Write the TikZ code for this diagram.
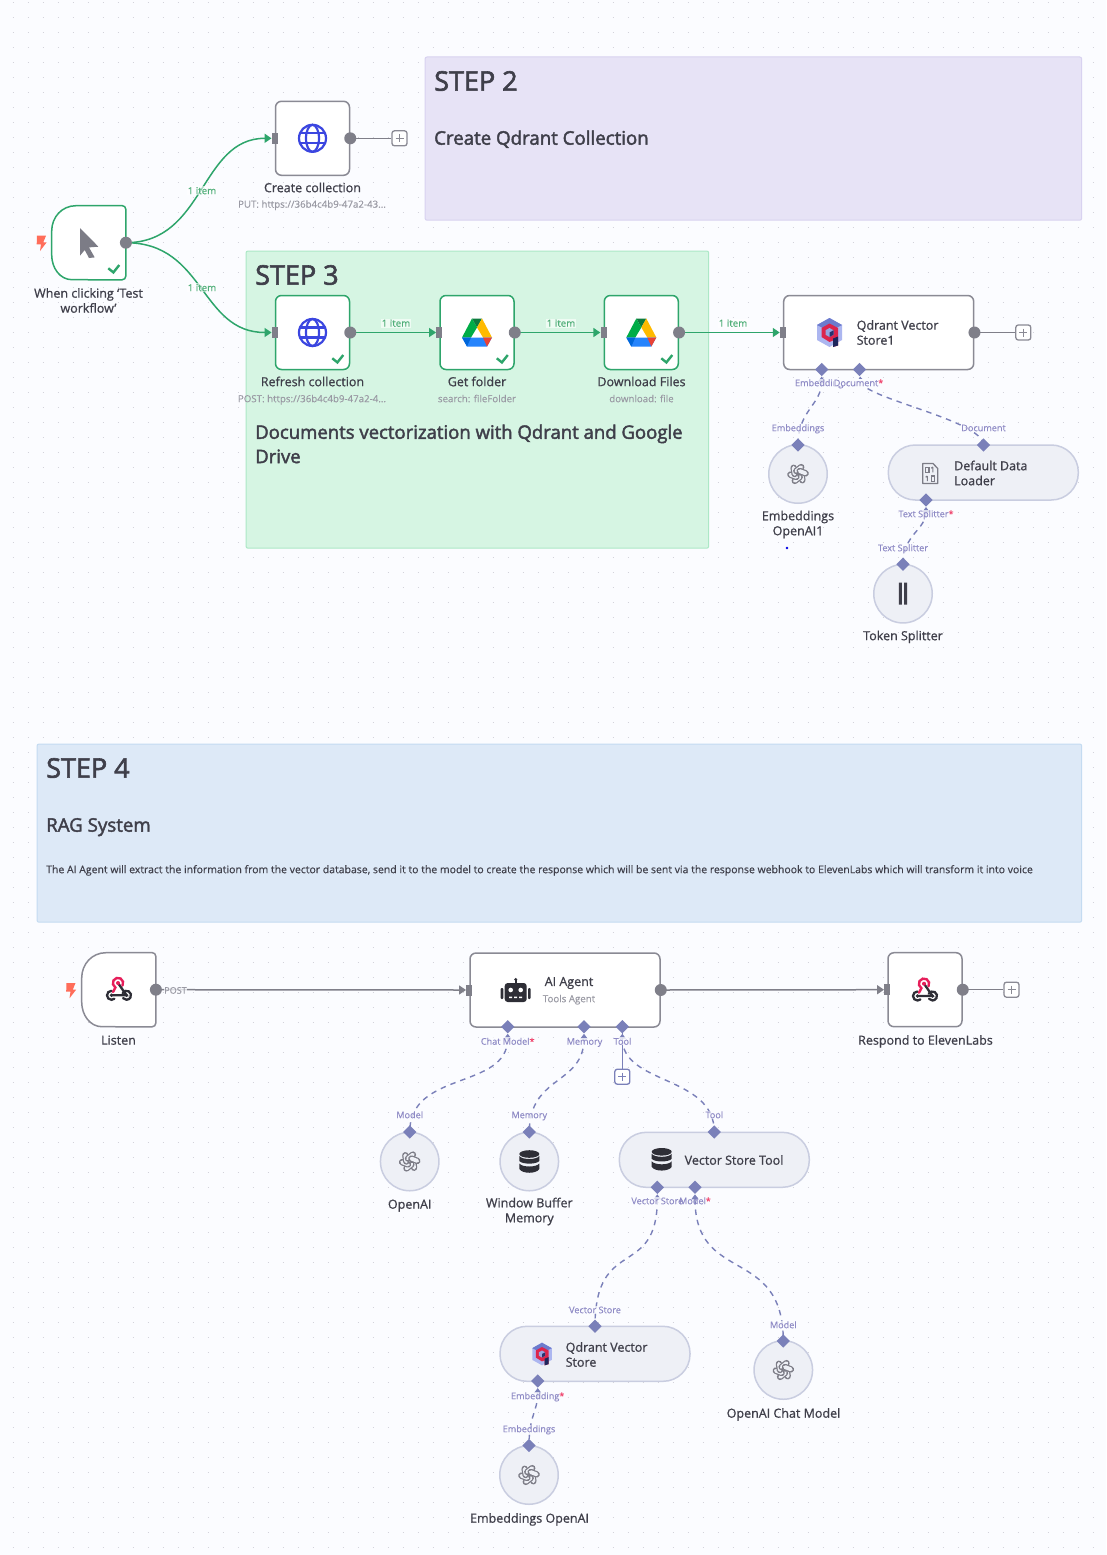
\documentclass[tikz,border=0pt]{standalone}
\usepackage{fontspec}
\setmainfont{Open Sans}
\newfontfamily\osreg[FakeBold=0.3]{Open Sans}
\newfontfamily\osmed[FakeBold=0.9]{Open Sans}
\newfontfamily\ossemi[FakeBold=2.2]{Open Sans}
\usetikzlibrary{shapes.geometric,arrows.meta}
\pgfdeclarelayer{gridlayer}\pgfdeclarelayer{notelayer}\pgfdeclarelayer{edgelayer}
\pgfsetlayers{gridlayer,notelayer,edgelayer,main}
\definecolor{pagebg}{HTML}{FBFCFF}
\definecolor{griddot}{HTML}{D3D3DB}
\definecolor{okgreen}{HTML}{2EA56B}
\definecolor{graybord}{HTML}{8A8A94}
\definecolor{portgray}{HTML}{7F7F89}
\definecolor{subfill}{HTML}{EEF0F6}
\definecolor{subbord}{HTML}{C9CDE0}
\definecolor{portpurple}{HTML}{7A80B9}
\definecolor{lblpurple}{HTML}{8F8BC6}
\definecolor{starred}{HTML}{F0436C}
\definecolor{textdark}{HTML}{3F3F4A}
\definecolor{textsub}{HTML}{9A9AA4}
\definecolor{itemgreen}{HTML}{4FAE78}
\definecolor{boltred}{HTML}{FF6D5A}
\definecolor{globeblue}{HTML}{3B46E0}
\definecolor{iconinkd}{HTML}{2E2E36}
\definecolor{aigray}{HTML}{7C7C86}
\definecolor{pnote}{HTML}{E7E3F6}\definecolor{pnoteb}{HTML}{D8D2F0}
\definecolor{gnote}{HTML}{D6F5E3}\definecolor{gnoteb}{HTML}{ACE8C6}
\definecolor{bnote}{HTML}{DDE9F7}\definecolor{bnoteb}{HTML}{C4DBF1}
\definecolor{gdgreend}{HTML}{0E7A3E}\definecolor{gdgreen}{HTML}{00AC47}
\definecolor{gdyellow}{HTML}{FFBA00}\definecolor{gdblue}{HTML}{2684FC}
\definecolor{gdblued}{HTML}{0066DA}\definecolor{gdred}{HTML}{EA4335}
\definecolor{qdlight}{HTML}{ACB6F0}\definecolor{qdmid}{HTML}{6C7BCD}
\definecolor{qdred}{HTML}{DC244C}\definecolor{qddark}{HTML}{1E265C}
\definecolor{qdpale}{HTML}{96A5E1}\definecolor{qdnavy}{HTML}{28326E}
\definecolor{hookpink}{HTML}{E61E5A}
\tikzset{
  x=1pt,y=-1pt,
  notebox/.style={draw,line width=1pt,rounded corners=2pt,anchor=north west,inner sep=0pt},
  plainbox/.style={draw=#1,fill=white,line width=1.5pt,rounded corners=6pt,minimum width=74pt,minimum height=74pt,inner sep=0pt},
  widebox/.style={draw=graybord,fill=white,line width=1.5pt,rounded corners=6pt,minimum width=190pt,minimum height=74pt,inner sep=0pt},
  trigshape/.style={minimum width=74pt,minimum height=74pt,inner sep=0pt},
  subcircle/.style={circle,draw=subbord,fill=subfill,line width=1.5pt,minimum size=58.5pt,inner sep=0pt},
  subpill/.style={draw=subbord,fill=subfill,line width=1.5pt,rounded corners=27pt,minimum width=190pt,minimum height=55pt,inner sep=0pt},
  outport/.style={circle,fill=portgray,minimum size=12pt,inner sep=0pt},
  inport/.style={fill=portgray,minimum width=6pt,minimum height=11pt,inner sep=0pt},
  subport/.style={diamond,fill=portpurple,minimum size=13.5pt,inner sep=0pt},
  plusbox/.style={draw=#1,fill=white,line width=1.3pt,rounded corners=2.5pt,minimum size=15pt,inner sep=0pt},
  nametext/.style={font=\osmed\fontsize{12.5}{15}\selectfont,text=textdark,align=center,inner sep=0pt,anchor=mid,yshift=-2pt},
  nametwo/.style={font=\osmed\fontsize{12.5}{15}\selectfont,text=textdark,align=center,inner sep=0pt,anchor=center},
  nameleft/.style={font=\osmed\fontsize{12.5}{15}\selectfont,text=textdark,align=left,inner sep=0pt,anchor=west},
  subtext/.style={font=\osreg\fontsize{9.7}{12}\selectfont,text=textsub,inner sep=0pt,anchor=mid,yshift=-1pt},
  plabel/.style={font=\osreg\fontsize{9.1}{12}\selectfont,text=lblpurple,inner sep=0.6pt,anchor=mid,yshift=-1pt,fill=pagebg,fill opacity=.75,text opacity=1},
  itemlabel/.style={font=\osreg\fontsize{9.7}{12}\selectfont,text=itemgreen,inner sep=0.8pt,anchor=mid,yshift=-1pt,fill=white,fill opacity=.6,text opacity=1},
  notetitle/.style={font=\ossemi\fontsize{27}{30}\selectfont,text=textdark,inner sep=0pt,anchor=mid west,yshift=-6.5pt},
  notehead/.style={font=\ossemi\fontsize{18.7}{24}\selectfont,text=textdark,inner sep=0pt,align=left},
  notesmall/.style={font=\osreg\fontsize{10.47}{12}\selectfont,text=textdark,inner sep=0pt,anchor=mid west,yshift=-1pt},
  okedge/.style={draw=okgreen,line width=1.5pt,-{Triangle[length=7pt,width=9pt]}},
  grayedge/.style={draw=portgray,line width=1.5pt,-{Triangle[length=7pt,width=9pt]}},
  stubedge/.style={draw=portgray,line width=1.5pt},
  subedge/.style={draw=portpurple,line width=1.4pt,dash pattern=on 5.5pt off 5pt,{Triangle[length=5pt,width=7pt]}-,shorten <=7pt},
  pics/globeicon/.style={code={
    \draw[globeblue,line width=2.2pt] (0,0) circle[radius=13.5];
    \draw[globeblue,line width=2.2pt] (0,0) circle[x radius=6.5,y radius=13.5];
    \draw[globeblue,line width=2.2pt] (-12.5,-5) -- (12.5,-5) (-12.5,5) -- (12.5,5);
  }},
  pics/gdriveicon/.style={code={
    \fill[gdgreend] (-5,-14) -- (5,-14) -- (0,-5) -- cycle;
    \fill[gdgreen] (-5,-14) -- (0,-5) -- (-6,5) -- (-15,5) -- cycle;
    \fill[gdyellow] (5,-14) -- (15,5) -- (6,5) -- (0,-5) -- cycle;
    \fill[gdblue] (-15,5) -- (15,5) -- (10,14) -- (-10,14) -- cycle;
    \fill[gdblued] (-15,5) -- (-6,5) -- (-10,14) -- cycle;
    \fill[gdred] (15,5) -- (6,5) -- (10,14) -- cycle;
  }},
  pics/qdranticon/.style={code={
    \fill[qdlight] (0,-14.5) -- (12.5,-7.5) -- (12.5,7.5) -- (0,14.5) -- (-12.5,7.5) -- (-12.5,-7.5) -- cycle;
    \fill[qdmid] (0,-14.5) -- (12.5,-7.5) -- (0,-1) -- (-12.5,-7.5) -- cycle;
    \fill[qdred] (0,-9) -- (8.5,-4.5) -- (8.5,13) -- (3.5,14.5) -- (3.5,8) -- (0,9.5) -- (-8,4.5) -- (-8,-4.5) -- cycle;
    \fill[qddark] (3.5,6) -- (8.5,4) -- (8.5,13) -- (3.5,14.5) -- cycle;
    \fill[qdpale] (0,-4.5) -- (4,-2.2) -- (4,2.2) -- (0,4.5) -- (-4,2.2) -- (-4,-2.2) -- cycle;
    \fill[qdnavy] (0,0) -- (4,-2.2) -- (4,2.2) -- (0,4.5) -- cycle;
  }},
  pics/openaiicon/.style={code={
    \foreach \a in {0,60,...,300}{
      \draw[aigray,line width=6.4pt,line cap=round] (\a:3.4) -- (\a+55:7.6);
      \draw[subfill,line width=3.9pt,line cap=round] (\a:3.4) -- (\a+55:7.6);
    }
  }},
  pics/dbicon/.style={code={
    \fill[iconinkd] (0,-7.5) circle[x radius=10,y radius=3.8];
    \fill[iconinkd] (-10,-5.5) .. controls (-7,-1.5) and (7,-1.5) .. (10,-5.5) -- (10,-0.5) .. controls (7,3) and (-7,3) .. (-10,-0.5) -- cycle;
    \fill[iconinkd] (-10,2) .. controls (-7,6) and (7,6) .. (10,2) -- (10,7.5) .. controls (7,12.5) and (-7,12.5) .. (-10,7.5) -- cycle;
  }},
  pics/roboticon/.style={code={
    \fill[iconinkd,rounded corners=3pt] (-11,-7) rectangle (11,12);
    \fill[iconinkd,rounded corners=1pt] (-15,-2) rectangle (-12.3,9);
    \fill[iconinkd,rounded corners=1pt] (12.3,-2) rectangle (15,9);
    \fill[iconinkd] (-1,-10) rectangle (1,-6);
    \fill[iconinkd] (0,-10.5) circle[radius=1.6];
    \fill[white] (-5,0) circle[radius=2.3] (5,0) circle[radius=2.3];
    \fill[white] (-6.5,6.5) rectangle (-3.5,8) (-1.5,6.5) rectangle (1.5,8) (3.5,6.5) rectangle (6.5,8);
  }},
  pics/webhookicon/.style={code={
    \draw[iconinkd,line width=2.3pt] (-1,-6) -- (7.5,6.3) -- (-7.5,6.3);
    \draw[iconinkd,line width=2.3pt,line cap=round] (-7.5,1.8) arc[start angle=-90,end angle=-310,radius=4.5];
    \draw[iconinkd,line width=2.3pt,line cap=round] (3.6,4) arc[start angle=-150,end angle=140,radius=4.5];
    \fill[iconinkd] (-7.5,6.3) circle[radius=1.9] (7.5,6.3) circle[radius=1.9];
    \draw[hookpink,line width=2.4pt,line cap=round] (-6,3) -- (-3.6,-1.5) arc[start angle=120,end angle=390,radius=5.2];
    \fill[hookpink] (-1,-6) circle[radius=2];
  }},
  pics/cursoricon/.style={code={
    \fill[aigray] (-8.7,-14.7) -- (9.7,4) -- (0.3,4.7) -- (6,14.7) -- (0.3,15.3) -- (-4,7.3) -- (-8.7,13) -- cycle;
  }},
  pics/bolticon/.style={code={
    \fill[boltred] (-4.5,-7) -- (4.5,-7) -- (1.8,-0.4) -- (5.2,-0.4) -- (-1.5,8.3) -- (-0.5,1.6) -- (-4.8,1.6) -- cycle;
  }},
  pics/checkicon/.style={code={
    \draw[okgreen,line width=2.4pt] (-5.7,0.3) -- (-0.6,4.4) -- (5.3,-3);
  }},
  pics/plusglyph/.style={code={
    \draw[#1,line width=1.5pt] (-4,0) -- (4,0) (0,-4) -- (0,4);
  }},
  pics/barsicon/.style={code={
    \fill[textdark] (-4.2,-11) rectangle (-1.2,11) (1.2,-11) rectangle (4.2,11);
  }},
  pics/binaryicon/.style={code={
    \draw[aigray,line width=1.3pt,line join=round] (-7.3,-10) -- (3,-10) -- (7.7,-5) -- (7.7,10) -- (-7.3,10) -- cycle;
    \draw[aigray,line width=1.1pt] (-4.5,-6.2) rectangle (-1,-1.2);
    \draw[aigray,line width=1.1pt] (2.8,-6.5) -- (2.8,-1.2) (1.2,-5.3) -- (2.8,-6.5);
    \draw[aigray,line width=1.1pt] (-2.7,2.5) -- (-2.7,7.7) (-4.3,3.7) -- (-2.7,2.5);
    \draw[aigray,line width=1.1pt] (1.2,2.5) rectangle (4.7,7.7);
  }},
}
\begin{document}
\begin{tikzpicture}
\useasboundingbox (0,0) rectangle (1106,1555);

% ---------- background and dot grid
\begin{pgfonlayer}{gridlayer}
  \fill[pagebg] (0,0) rectangle (1106,1555);
  \foreach \j in {0,...,103}{
    \draw[griddot,line width=1.1pt,dash pattern=on 1.1pt off 13.9pt] (12.5,2.5+15*\j) -- (1106,2.5+15*\j);
  }
\end{pgfonlayer}

% ---------- sticky notes
\begin{pgfonlayer}{notelayer}
  \node[notebox,draw=pnoteb,fill=pnote,minimum width=656.7pt,minimum height=163.2pt] (note2) at (424.5,56.5) {};
  \node[notebox,draw=gnoteb,fill=gnote,minimum width=462.7pt,minimum height=297.2pt] (note3) at (245.5,250.5) {};
  \node[notebox,draw=bnoteb,fill=bnote,minimum width=1044.7pt,minimum height=178.2pt] (note4) at (36.5,743.5) {};
\end{pgfonlayer}
\node[notetitle] (n2a) at (434,81.5) {STEP 2};
\node[notehead,anchor=mid west,yshift=-4pt] (n2b) at (434,138) {Create Qdrant Collection};
\node[notetitle] (n3a) at (255,275.5) {STEP 3};
\node[notehead,anchor=north west,yshift=-3.5pt,font=\ossemi\fontsize{18.55}{24.3}\selectfont] (n3b) at (255,421) {Documents vectorization with Qdrant and Google\\Drive};
\node[notetitle] (n4a) at (46,768.5) {STEP 4};
\node[notehead,anchor=mid west,yshift=-4pt] (n4b) at (46,825) {RAG System};
\node[notesmall] (n4c) at (46,869.5) {The AI Agent will extract the information from the vector database, send it to the model to create the response which will be sent via the response webhook to ElevenLabs which will transform it into voice};

% ---------- main nodes, upper workflow
\node[trigshape] (trig) at (88.7,242.7) {};
\draw[okgreen,fill=white,line width=1.5pt]
  (76,205.7) [rounded corners=4pt] -- (trig.north east) -- (trig.south east) -- (76,279.7) [sharp corners]
  .. controls (60,279.7) and (51.7,268) .. (51.7,255) -- (51.7,231)
  .. controls (51.7,217) and (62,205.7) .. (76,205.7) -- cycle;
\pic at (trig.center) {cursoricon};
\pic at (114,268) {checkicon};
\pic at (41.5,242.7) {bolticon};
\node[nametwo] (trigt) at (88.5,300.5) {When clicking ‘Test\\workflow’};

\node[plainbox=graybord] (create) at (312.5,138.3) {};
\pic at (create.center) {globeicon};
\node[nametext] (createt) at (312.5,187.5) {Create collection};
\node[subtext] (creates) at (312,204) {PUT: https://36b4c4b9-47a2-43...};

\node[plainbox=okgreen] (refresh) at (312.5,332.5) {};
\pic at (refresh.center) {globeicon};
\pic at (338,358) {checkicon};
\node[nametext] (refresht) at (312.5,381.5) {Refresh collection};
\node[subtext] (refreshs) at (312,398.5) {POST: https://36b4c4b9-47a2-4...};

\node[plainbox=okgreen] (folder) at (477,332.5) {};
\pic at (folder.center) {gdriveicon};
\pic at (502.5,358) {checkicon};
\node[nametext] (foldert) at (477,381.5) {Get folder};
\node[subtext] (folders) at (477,398.5) {search: fileFolder};

\node[plainbox=okgreen] (files) at (641.3,332.5) {};
\pic at (files.center) {gdriveicon};
\pic at (667,358) {checkicon};
\node[nametext] (filest) at (641.5,381.5) {Download Files};
\node[subtext] (filess) at (641.5,398.5) {download: file};

\node[widebox] (qv1) at (878.7,332.5) {};
\pic at (829.5,332.5) {qdranticon};
\node[nameleft] (qv1t) at (856.5,332.5) {Qdrant Vector\\Store1};

\node[subcircle] (emb1) at (798,474) {};
\pic at (emb1.center) {openaiicon};
\node[nametwo] (emb1t) at (798,524.5) {Embeddings\\OpenAI1};
\fill[blue!90!black] (787,548) circle[radius=1.3];

\node[subpill] (ddl) at (983.3,472.5) {};
\pic at (930,473.5) {binaryicon};
\node[nameleft] (ddlt) at (954,473) {Default Data\\Loader};

\node[subcircle] (tok) at (903,593.7) {};
\pic at (tok.center) {barsicon};
\node[nametext] (tokt) at (903,635.5) {Token Splitter};

% ---------- ports, upper workflow
\node[outport] (trigo) at (trig.east) {};
\node[inport] (createi) at (create.west) {};
\node[outport] (createo) at (create.east) {};
\node[plusbox=graybord] (createp) at (399.5,138.3) {};
\pic at (createp.center) {plusglyph=graybord};
\node[inport] (refreshi) at (refresh.west) {};
\node[outport] (refresho) at (refresh.east) {};
\node[inport] (folderi) at (folder.west) {};
\node[outport] (foldero) at (folder.east) {};
\node[inport] (filesi) at (files.west) {};
\node[outport] (fileso) at (files.east) {};
\node[inport] (qv1i) at (qv1.west) {};
\node[outport] (qv1o) at (qv1.east) {};
\node[plusbox=graybord] (qv1p) at (1023.3,332.5) {};
\pic at (qv1p.center) {plusglyph=graybord};
\node[subport] (qv1e) at (821.7,369.5) {};
\node[subport] (qv1d) at (859.5,369.5) {};
\node[subport] (emb1p) at (798,445) {};
\node[subport] (ddlp) at (983.5,445) {};
\node[subport] (ddlb) at (926,500) {};
\node[subport] (tokp) at (903,564.3) {};

% ---------- connectors, upper workflow
\begin{pgfonlayer}{edgelayer}
  \draw[okedge] (trigo.center) .. controls (205,242.7) and (200,138.3) .. (createi.west);
  \draw[okedge] (trigo.center) .. controls (205,242.7) and (200,332.5) .. (refreshi.west);
  \draw[stubedge] (createo.center) -- (createp.west);
  \draw[okedge] (refresho.center) -- (folderi.west);
  \draw[okedge] (foldero.center) -- (filesi.west);
  \draw[okedge] (fileso.center) -- (qv1i.west);
  \draw[stubedge] (qv1o.center) -- (qv1p.west);
  \draw[subedge] (qv1e.center) .. controls (821.7,405) and (798,410) .. (emb1p.center);
  \draw[subedge] (qv1d.center) .. controls (862,398) and (983,420) .. (ddlp.center);
  \draw[subedge] (ddlb.center) .. controls (926,530) and (903,534) .. (tokp.center);
\end{pgfonlayer}

% ---------- labels, upper workflow
\node[itemlabel] (i1) at (202,190.5) {1 item};
\node[itemlabel] (i2) at (202,287.5) {1 item};
\node[itemlabel] (i3) at (396,323) {1 item};
\node[itemlabel] (i4) at (561,323) {1 item};
\node[itemlabel] (i5) at (733,323) {1 item};
\node[plabel] (l1) at (821.7,382.5) {Embedding\textcolor{starred}{*}};
\node[plabel,fill opacity=1,inner sep=0pt] (l2) at (858.5,382.5) {Document\textcolor{starred}{*}};
\node[plabel] (l3) at (798,427.5) {Embeddings};
\node[plabel] (l4) at (983.5,427.5) {Document};
\node[plabel] (l5) at (926,513.5) {Text Splitter\textcolor{starred}{*}};
\node[plabel] (l6) at (903,547.5) {Text Splitter};

% ---------- main nodes, lower workflow
\node[trigshape] (listen) at (118.7,989.7) {};
\draw[graybord,fill=white,line width=1.5pt]
  (106,952.7) [rounded corners=4pt] -- (listen.north east) -- (listen.south east) -- (106,1026.7) [sharp corners]
  .. controls (90,1026.7) and (81.7,1015) .. (81.7,1002) -- (81.7,978)
  .. controls (81.7,964) and (92,952.7) .. (106,952.7) -- cycle;
\pic at (119,989) {webhookicon};
\pic at (71,990) {bolticon};
\node[nametext] (listent) at (118.5,1040) {Listen};

\node[widebox] (agent) at (565,990) {};
\pic at (515.7,990) {roboticon};
\node[nameleft,anchor=center] (agentt) at (569,983) {AI Agent};
\node[subtext] (agents) at (569,998.5) {Tools Agent};

\node[plainbox=graybord] (resp) at (925,989.7) {};
\pic at (resp.center) {webhookicon};
\node[nametext] (respt) at (925.5,1040) {Respond to ElevenLabs};

\node[subcircle] (oai) at (409.7,1161.5) {};
\pic at (oai.center) {openaiicon};
\node[nametext] (oait) at (409.7,1204) {OpenAI};

\node[subcircle] (wbm) at (529.3,1161.5) {};
\pic at (wbm.center) {dbicon};
\node[nametwo] (wbmt) at (529.3,1211.5) {Window Buffer\\Memory};

\node[subpill] (vst) at (714.3,1159.8) {};
\pic at (661.7,1159.3) {dbicon};
\node[nameleft] (vstt) at (684.5,1160) {Vector Store Tool};

\node[subpill] (qvs) at (595,1353.8) {};
\pic[scale=.78] at (542,1354) {qdranticon};
\node[nameleft] (qvst) at (565.5,1354.5) {Qdrant Vector\\Store};

\node[subcircle] (ocm) at (783.3,1370) {};
\pic at (ocm.center) {openaiicon};
\node[nametext] (ocmt) at (783.5,1413) {OpenAI Chat Model};

\node[subcircle] (eoa) at (529,1475) {};
\pic at (eoa.center) {openaiicon};
\node[nametext] (eoat) at (529.5,1518) {Embeddings OpenAI};

% ---------- ports, lower workflow
\node[outport] (listeno) at (listen.east) {};
\node[inport] (agenti) at (agent.west) {};
\node[outport] (agento) at (agent.east) {};
\node[inport] (respi) at (resp.west) {};
\node[outport] (respo) at (resp.east) {};
\node[plusbox=graybord] (respp) at (1011.5,989.7) {};
\pic at (respp.center) {plusglyph=graybord};
\node[subport] (agm) at (507.7,1026.7) {};
\node[subport] (agr) at (584,1026.7) {};
\node[subport] (agt) at (622.3,1026.7) {};
\node[plusbox=portpurple] (agtp) at (622.3,1076.7) {};
\pic at (agtp.center) {plusglyph=portpurple};
\node[subport] (oaip) at (409.7,1132) {};
\node[subport] (wbmp) at (529.3,1132) {};
\node[subport] (vstp) at (714.3,1132) {};
\node[subport] (vstv) at (657.3,1187.3) {};
\node[subport] (vstm) at (695,1187.3) {};
\node[subport] (qvsp) at (595,1326.3) {};
\node[subport] (qvsb) at (537.7,1381) {};
\node[subport] (ocmp) at (783.3,1341) {};
\node[subport] (eoap) at (529,1445.5) {};

% ---------- connectors, lower workflow
\begin{pgfonlayer}{edgelayer}
  \draw[grayedge] (listeno.center) -- (agenti.west);
  \draw[grayedge] (agento.center) -- (respi.west);
  \draw[stubedge] (respo.center) -- (respp.west);
  \draw[subedge] (agm.center) .. controls (507.7,1090) and (409.7,1070) .. (oaip.center);
  \draw[subedge] (agr.center) .. controls (584,1085) and (529.3,1075) .. (wbmp.center);
  \draw[subedge] (agt.center) .. controls (622.3,1085) and (714.3,1075) .. (vstp.center);
  \draw[draw=portpurple,line width=1.4pt] (agt.center) -- (agtp.north);
  \draw[subedge] (vstv.center) .. controls (657.3,1280) and (595,1235) .. (qvsp.center);
  \draw[subedge] (vstm.center) .. controls (695,1285) and (783.3,1245) .. (ocmp.center);
  \draw[subedge] (qvsb.center) .. controls (537.7,1412) and (529,1415) .. (eoap.center);
\end{pgfonlayer}

% ---------- labels, lower workflow
\node[plabel,text=textsub] (pp) at (175.5,990) {POST};
\node[plabel] (m1) at (507.7,1041) {Chat Model\textcolor{starred}{*}};
\node[plabel] (m2) at (584.5,1041) {Memory};
\node[plabel] (m3) at (622.5,1041) {Tool};
\node[plabel] (m4) at (409.7,1114.5) {Model};
\node[plabel] (m5) at (529.3,1114.5) {Memory};
\node[plabel] (m6) at (714.3,1114.5) {Tool};
\node[plabel] (m7) at (657.3,1200.5) {Vector Store};
\node[plabel,fill opacity=0] (m8) at (695,1200.5) {Model\textcolor{starred}{*}};
\node[plabel] (m9) at (595,1309.5) {Vector Store};
\node[plabel] (m10) at (537.7,1395.5) {Embedding\textcolor{starred}{*}};
\node[plabel] (m11) at (529,1428.5) {Embeddings};
\node[plabel] (m12) at (783.3,1324.5) {Model};
\end{tikzpicture}
\end{document}
